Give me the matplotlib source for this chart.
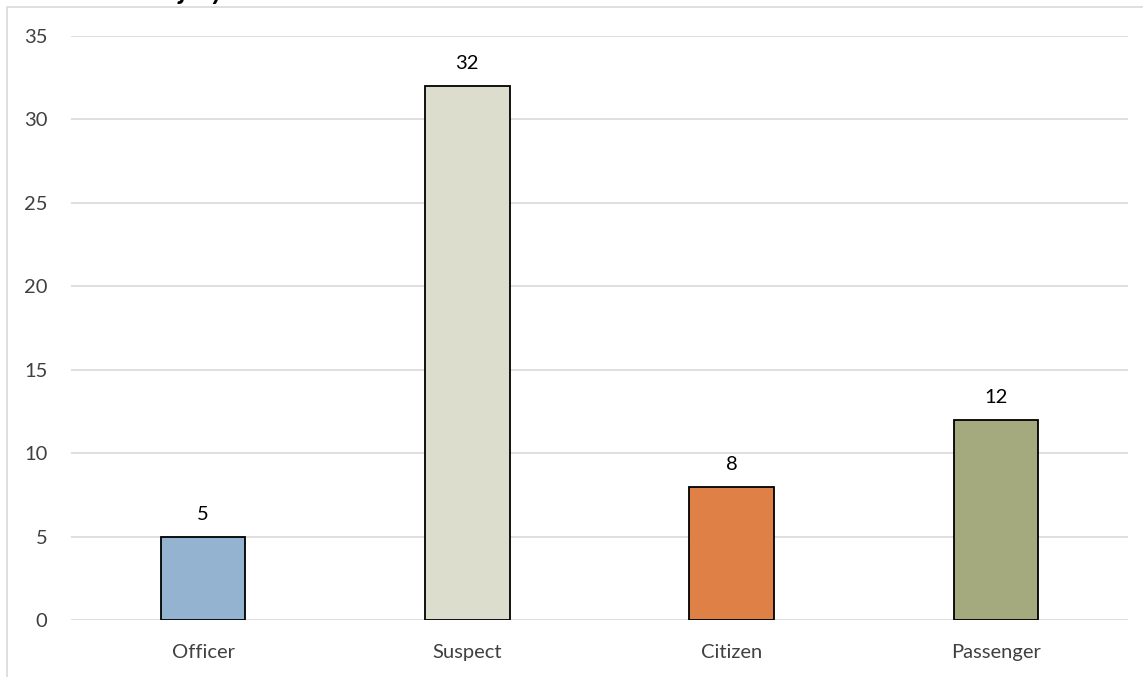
import matplotlib.pyplot as plt
from matplotlib.patches import Rectangle

categories = ["Officer", "Suspect", "Citizen", "Passenger"]
counts = [5, 32, 8, 12]
colors = ["#93B3D1", "#DCDDCC", "#DF8046", "#A4AA7E"]
yticks = [0, 5, 10, 15, 20, 25, 30, 35]

plt.rcParams['font.family'] = ['Lato', 'DejaVu Sans']

fig = plt.figure(figsize=(11.43, 6.77), dpi=100)
ax = fig.add_axes([71 / 1143, 1 - 620 / 677, 1057 / 1143, 584 / 677])

x = range(len(categories))
bars = ax.bar(x, counts, width=0.32, color=colors, edgecolor="black",
              linewidth=1.3, zorder=3)

for b, v in zip(bars, counts):
    ax.annotate(str(v), (b.get_x() + b.get_width() / 2, v),
                xytext=(0, 10), textcoords="offset points",
                ha="center", va="bottom", fontsize=14.5, color="black")

ax.set_xlim(-0.5, len(categories) - 0.5)
ax.set_ylim(0, 35)
ax.set_yticks(yticks)
ax.set_xticks(list(x))
ax.set_xticklabels(categories)
ax.tick_params(axis="both", length=0, labelsize=14.5, labelcolor="#404040")
ax.tick_params(axis="y", pad=17)
ax.tick_params(axis="x", pad=17)
ax.grid(axis="y", color="#D9D9D9", linewidth=1.2, zorder=0)
for s in ax.spines.values():
    s.set_visible(False)

# outer chart border (cropped on the right/bottom)
fig.patches.append(Rectangle((7 / 1143, -0.1), 1.2, 1.1 - 7 / 677,
                             transform=fig.transFigure, fill=False,
                             edgecolor="#D9D9D9", linewidth=1.2))

# title, mostly cut off above the frame
fig.text(158 / 1143, 1 + 1 / 677, "Injury", fontsize=20, fontweight="bold",
         fontstyle="italic", va="baseline", ha="left", color="black")

fig.savefig("out.png", dpi=100)
